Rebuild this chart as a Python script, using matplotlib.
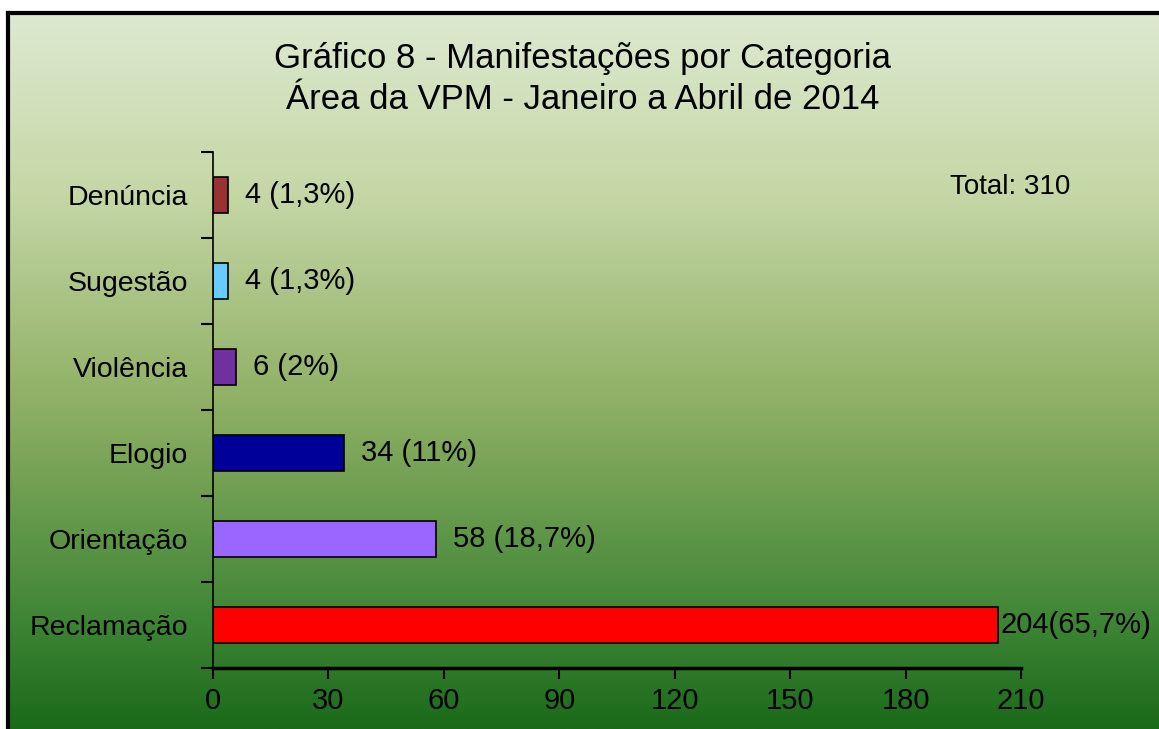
import numpy as np
import matplotlib
matplotlib.use("Agg")
import matplotlib.pyplot as plt
from matplotlib.colors import LinearSegmentedColormap

plt.rcParams['font.family'] = ['Liberation Sans', 'DejaVu Sans']

#data, bottom to top
categories = ["Reclamação", "Orientação", "Elogio", "Violência", "Sugestão", "Denúncia"]
counts = [204, 58, 34, 6, 4, 4]
labels = ["204(65,7%)", "58 (18,7%)", "34 (11%)", "6 (2%)", "4 (1,3%)", "4 (1,3%)"]
colors = ["#ff0000", "#9966ff", "#000099", "#7030a0", "#66ccff", "#993333"]
xticks = [0, 30, 60, 90, 120, 150, 180, 210]
title = "Gráfico 8 - Manifestações por Categoria\nÁrea da VPM - Janeiro a Abril de 2014"
total_text = "Total: 310"

W, H = 1159, 729
fig = plt.figure(figsize=(W/100.0, H/100.0), dpi=100)
fig.patch.set_facecolor("white")

#background gradient panel with dark frame
bg = fig.add_axes([8.0/W, 0, 1 - 8.0/W, 1 - 13.0/H])
stops = [(0.0, "#dee9d0"), (0.25, "#c5d7a6"), (0.55, "#8eaf63"), (0.85, "#3f8536"), (1.0, "#1a6a1a")]
cmap = LinearSegmentedColormap.from_list("bg", stops)
grad = np.linspace(0, 1, 256).reshape(-1, 1)
bg.imshow(grad, aspect="auto", cmap=cmap, extent=[0, 1, 0, 1], origin="upper")
bg.set_xticks([])
bg.set_yticks([])
for s in ["bottom", "right"]:
	bg.spines[s].set_visible(False)
for s in ["left", "top"]:
	bg.spines[s].set_linewidth(3)
	bg.spines[s].set_color("black")

#chart axes
x0, x1 = 213.0, 1021.0
y0, y1 = 152.0, 668.0
ax = fig.add_axes([x0/W, 1 - y1/H, (x1 - x0)/W, (y1 - y0)/H])
ax.patch.set_alpha(0)
ypos = np.arange(len(categories))
ax.barh(ypos, counts, height=0.41, color=colors, edgecolor="black", linewidth=1.2)
ax.set_xlim(0, 210)
ax.set_ylim(-0.5, len(categories) - 0.5)

ax.set_xticks(xticks)
ax.set_xticklabels([str(t) for t in xticks], fontsize=21)
ax.tick_params(axis="x", direction="out", length=8, width=1.5, pad=6)
ax.set_yticks(ypos)
ax.set_yticklabels(categories, fontsize=20.5)
ax.tick_params(axis="y", which="major", length=0, pad=18)
ax.set_yticks(np.arange(-0.5, len(categories)), minor=True)
ax.tick_params(axis="y", which="minor", direction="out", length=9, width=1.5)

for s in ["top", "right"]:
	ax.spines[s].set_visible(False)
ax.spines["left"].set_linewidth(1.2)
ax.spines["bottom"].set_linewidth(2.5)

#value labels
offsets = [3, 17, 17, 17, 17, 17]
for y, v, lab, off in zip(ypos, counts, labels, offsets):
	ax.annotate(lab, (v, y), xytext=(off*0.72, 0), textcoords="offset points",
		va="center", ha="left", fontsize=21, annotation_clip=False)

fig.text(583.0/W, 1 - 79.0/H, title, ha="center", va="center", fontsize=25, linespacing=1.3)
fig.text(1010.0/W, 1 - 187.0/H, total_text, ha="center", va="center", fontsize=20)

fig.savefig("out.png", dpi=100)
